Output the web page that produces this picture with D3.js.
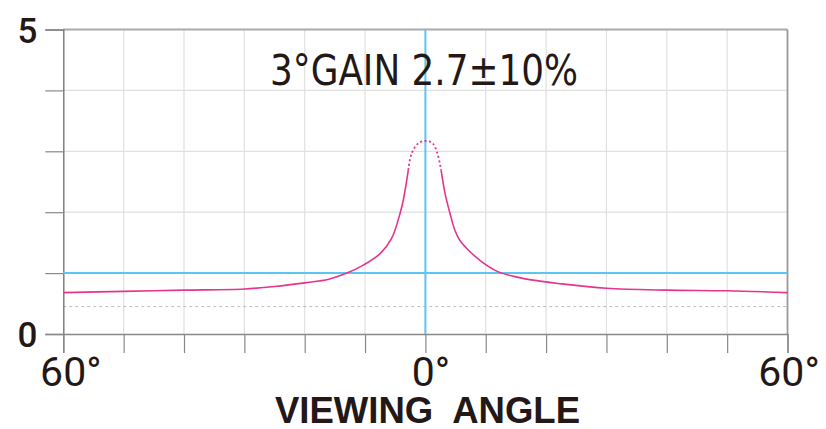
<!DOCTYPE html>
<html>
<head>
<meta charset="utf-8">
<script src="https://cdn.jsdelivr.net/npm/d3@7"></script>
<style>
  body { margin: 0; background: #fff; }
  svg { display: block; }
</style>
</head>
<body>
<div id="chart"></div>
<script>
const WIDTH = 826;
const HEIGHT = 429;

// viewing angle (deg) and gain
const ANGLES = [-60, -50, -40, -30, -25, -20, -16, -13, -10.3, -7.5, -5.6, -4.2, -3.66, -2.83, -2.3, -1.2, 0, 1.2, 2.0, 2.6, 3.25, 4.08, 4.9, 5.7, 7.1, 9.3, 12.1, 15.4, 18.2, 22, 30, 40, 50, 60];
const GAIN   = [0.68, 0.70, 0.72, 0.74, 0.78, 0.84, 0.90, 1.0, 1.13, 1.32, 1.57, 1.98, 2.20, 2.69, 2.96, 3.13, 3.17, 3.13, 2.96, 2.69, 2.31, 1.98, 1.70, 1.54, 1.38, 1.19, 1.02, 0.93, 0.88, 0.83, 0.75, 0.72, 0.71, 0.68];
const PEAK_RANGE = [-2.83, 2.6];   // part of the curve drawn dotted

const XTICKS = [-60, -50, -40, -30, -20, -10, 0, 10, 20, 30, 40, 50, 60];
const XLABELS = {"-60": "60°", "0": "0°", "60": "60°"};
const YTICKS = [0, 1, 2, 3, 4, 5];
const YLABELS = {"0": "0", "5": "5"};
const REF_GAIN = 1;
const DOTTED_GAIN = 0.45;
const TITLE = "3°GAIN 2.7±10%";
const XTITLE = "VIEWING  ANGLE";

const X0 = 63.3, X1 = 787.5, Y0 = 334, Y1 = 29.5;
const INK = "#231815";

const svg = d3.select("#chart").append("svg")
   .attr("width", WIDTH)
   .attr("height", HEIGHT);

const x = d3.scaleLinear().domain([-60, 60]).range([X0, X1]);
const y = d3.scaleLinear().domain([0, 5]).range([Y0, Y1]);

// grid
svg.append("g").selectAll("line")
   .data(XTICKS.slice(1, -1))
   .join("line")
   .attr("x1", d => x(d)).attr("x2", d => x(d))
   .attr("y1", Y1).attr("y2", Y0)
   .attr("stroke", "#e0e0e0").attr("stroke-width", 1.2);

svg.append("g").selectAll("line")
   .data(YTICKS.slice(1, -1))
   .join("line")
   .attr("x1", X0).attr("x2", X1)
   .attr("y1", d => y(d)).attr("y2", d => y(d))
   .attr("stroke", "#e0e0e0").attr("stroke-width", 1.2);

// frame top / right
svg.append("line")
   .attr("x1", X0).attr("x2", X1).attr("y1", Y1).attr("y2", Y1)
   .attr("stroke", "#aaa").attr("stroke-width", 2);
svg.append("line")
   .attr("x1", X1).attr("x2", X1).attr("y1", Y1).attr("y2", Y0)
   .attr("stroke", "#999").attr("stroke-width", 1.8);

// dotted line
svg.append("line")
   .attr("x1", X0).attr("x2", X1)
   .attr("y1", y(DOTTED_GAIN)).attr("y2", y(DOTTED_GAIN))
   .attr("stroke", "#bbb").attr("stroke-width", 1)
   .attr("stroke-dasharray", "3,3");

// Y AXIS
const yAxis = svg.append("g")
   .attr("transform", "translate(" + X0 + ",0)")
   .call(d3.axisLeft(y).tickValues(YTICKS).tickSize(18).tickPadding(8)
      .tickFormat(d => YLABELS[d] || ""));
yAxis.select(".domain").attr("stroke", "#777").attr("stroke-width", 1.4);
yAxis.selectAll(".tick line").attr("stroke", "#888").attr("stroke-width", 1.2);
yAxis.selectAll("text")
   .attr("fill", INK)
   .style("font-family", "Roboto, 'Liberation Sans', sans-serif")
   .style("font-weight", "500")
   .style("font-size", "35px")
   .attr("dy", "0.36em");

// X AXIS
const xAxis = svg.append("g")
   .attr("transform", "translate(0," + Y0 + ")")
   .call(d3.axisBottom(x).tickValues(XTICKS).tickSize(19).tickPadding(4)
      .tickFormat(d => XLABELS[d] || ""));
xAxis.select(".domain").attr("stroke", "#888").attr("stroke-width", 1.4);
xAxis.selectAll(".tick line").attr("stroke", "#888").attr("stroke-width", 1.2);
xAxis.selectAll("text")
   .attr("fill", INK)
   .style("font-family", "Roboto, 'Liberation Sans', sans-serif")
   .style("font-size", "41px")
   .attr("dx", d => d === -60 ? 7 : d === 0 ? 5 : 1);

// blue reference lines
svg.append("line")
   .attr("x1", X0).attr("x2", X1)
   .attr("y1", y(REF_GAIN)).attr("y2", y(REF_GAIN))
   .attr("stroke", "#5cc6f2").attr("stroke-width", 2);
svg.append("line")
   .attr("x1", x(0)).attr("x2", x(0))
   .attr("y1", Y1).attr("y2", Y0)
   .attr("stroke", "#5cc6f2").attr("stroke-width", 2);

// gain curve
const pts = ANGLES.map((a, i) => [a, GAIN[i]]);
const line = d3.line().x(d => x(d[0])).y(d => y(d[1])).curve(d3.curveCatmullRom.alpha(0.5));
const PINK = "#e6348b";

svg.append("path")
   .datum(pts.filter(d => d[0] <= PEAK_RANGE[0]))
   .attr("d", line).attr("fill", "none")
   .attr("stroke", PINK).attr("stroke-width", 1.6);
svg.append("path")
   .datum(pts.filter(d => d[0] >= PEAK_RANGE[1]))
   .attr("d", line).attr("fill", "none")
   .attr("stroke", PINK).attr("stroke-width", 1.6);
svg.append("path")
   .datum(pts.filter(d => d[0] >= PEAK_RANGE[0] && d[0] <= PEAK_RANGE[1]))
   .attr("d", line).attr("fill", "none")
   .attr("stroke", PINK).attr("stroke-width", 1.8)
   .attr("stroke-dasharray", "2,2.5");

// Title
svg.append("text")
   .attr("x", 270).attr("y", 85)
   .attr("textLength", 308).attr("lengthAdjust", "spacingAndGlyphs")
   .attr("fill", INK)
   .style("font-family", "'Liberation Sans Narrow', 'DejaVu Sans Condensed', sans-serif")
   .style("font-size", "42px")
   .text(TITLE);

// X title
svg.append("text")
   .attr("x", 275).attr("y", 423)
   .attr("textLength", 305).attr("lengthAdjust", "spacingAndGlyphs")
   .attr("fill", INK)
   .style("white-space", "pre")
   .style("font-family", "'Liberation Sans', Roboto, sans-serif")
   .style("font-weight", "bold")
   .style("font-size", "36px")
   .text(XTITLE);
</script>
</body>
</html>
